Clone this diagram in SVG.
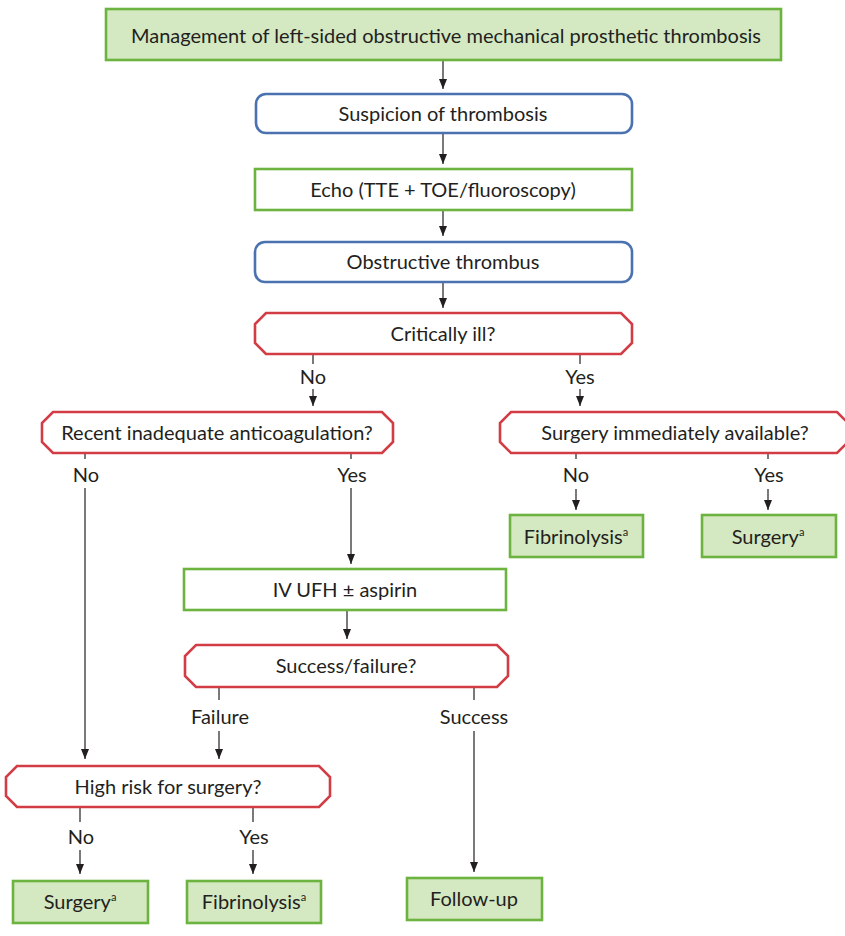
<svg xmlns="http://www.w3.org/2000/svg" width="845" height="936" viewBox="0 0 845 936">
<defs>
<marker id="ah" markerUnits="userSpaceOnUse" markerWidth="10" markerHeight="8" refX="10" refY="4" orient="auto">
<path d="M0,0 L10,4 L0,8 Z" fill="#231f20"/>
</marker>
<style>
.t{font-family:Lato,"Liberation Sans",sans-serif;font-size:20px;fill:#231f20;text-anchor:middle}
.sup{font-size:11px}
.g{fill:#d4e8c2;stroke:#6db33f;stroke-width:2.6}
.gw{fill:#ffffff;stroke:#6db33f;stroke-width:2.6}
.b{fill:#ffffff;stroke:#4a72b0;stroke-width:2.6}
.r{fill:#ffffff;stroke:#d23c44;stroke-width:2.6}
.c line{stroke:#231f20;stroke-width:1.2}
.c line.a{marker-end:url(#ah)}
</style>
</defs>
<rect width="845" height="936" fill="#ffffff"/>
<g id="connectors" class="c">
<line class="a" x1="443" y1="61" x2="443" y2="89"/>
<line class="a" x1="443" y1="134" x2="443" y2="164"/>
<line class="a" x1="443" y1="211" x2="443" y2="236"/>
<line class="a" x1="443" y1="283" x2="443" y2="308"/>
<line x1="313" y1="354" x2="313" y2="364"/>
<line class="a" x1="313" y1="389" x2="313" y2="406"/>
<line x1="580" y1="354" x2="580" y2="364"/>
<line class="a" x1="580" y1="389" x2="580" y2="406"/>
<line x1="85" y1="453" x2="85" y2="459"/>
<line class="a" x1="85" y1="488" x2="85" y2="759"/>
<line x1="351" y1="453" x2="351" y2="459"/>
<line class="a" x1="351" y1="488" x2="351" y2="564"/>
<line x1="576" y1="453" x2="576" y2="459"/>
<line class="a" x1="576" y1="489" x2="576" y2="510"/>
<line x1="768" y1="453" x2="768" y2="459"/>
<line class="a" x1="768" y1="489" x2="768" y2="510"/>
<line class="a" x1="347" y1="610" x2="347" y2="639"/>
<line x1="219" y1="687" x2="219" y2="700"/>
<line class="a" x1="219" y1="731" x2="219" y2="759"/>
<line x1="474" y1="687" x2="474" y2="700"/>
<line class="a" x1="474" y1="731" x2="474" y2="872"/>
<line x1="80" y1="807" x2="80" y2="822"/>
<line class="a" x1="80" y1="850" x2="80" y2="874"/>
<line x1="253" y1="807" x2="253" y2="822"/>
<line class="a" x1="253" y1="850" x2="253" y2="874"/>
<text class="t" x="313" y="384">No</text>
<text class="t" x="580" y="384">Yes</text>
<text class="t" x="86" y="482">No</text>
<text class="t" x="352" y="482">Yes</text>
<text class="t" x="576" y="482">No</text>
<text class="t" x="769" y="482">Yes</text>
<text class="t" x="220" y="724">Failure</text>
<text class="t" x="474" y="724">Success</text>
<text class="t" x="81" y="844">No</text>
<text class="t" x="254" y="844">Yes</text>
</g>
<g id="n-title">
<rect class="g" x="106" y="9" width="675" height="51"/>
<text class="t" x="446" y="43">Management of left-sided obstructive mechanical prosthetic thrombosis</text>
</g>
<g id="n-suspicion">
<rect class="b" x="256" y="94" width="376" height="39" rx="10"/>
<text class="t" x="443" y="121">Suspicion of thrombosis</text>
</g>
<g id="n-echo">
<rect class="gw" x="255" y="169" width="377" height="41"/>
<text class="t" x="443" y="197">Echo (TTE + TOE/fluoroscopy)</text>
</g>
<g id="n-obstructive">
<rect class="b" x="255" y="242" width="377" height="40" rx="10"/>
<text class="t" x="443" y="269">Obstructive thrombus</text>
</g>
<g id="n-critically">
<path class="r" d="M266,313 H621 L632,324 V343 L621,354 H266 L255,343 V324 Z"/>
<text class="t" x="443" y="341">Critically ill?</text>
</g>
<g id="n-recent">
<path class="r" d="M53,412 H382 L393,423 V442 L382,453 H53 L42,442 V423 Z"/>
<text class="t" x="217" y="440">Recent inadequate anticoagulation?</text>
</g>
<g id="n-surgery-avail">
<path class="r" d="M511,412 H837 L848,423 V442 L837,453 H511 L500,442 V423 Z"/>
<text class="t" x="675" y="440">Surgery immediately available?</text>
</g>
<g id="n-fibrinolysis-1">
<rect class="g" x="510" y="515" width="133" height="42"/>
<text class="t" x="576" y="544">Fibrinolysis<tspan class="sup" dy="-8">a</tspan></text>
</g>
<g id="n-surgery-1">
<rect class="g" x="702" y="515" width="134" height="42"/>
<text class="t" x="768" y="544">Surgery<tspan class="sup" dy="-8">a</tspan></text>
</g>
<g id="n-ivufh">
<rect class="gw" x="184" y="569" width="322" height="41"/>
<text class="t" x="345" y="597">IV UFH ± aspirin</text>
</g>
<g id="n-success-failure">
<path class="r" d="M196,645 H497 L508,656 V676 L497,687 H196 L185,676 V656 Z"/>
<text class="t" x="346" y="673">Success/failure?</text>
</g>
<g id="n-highrisk">
<path class="r" d="M17,766 H319 L330,777 V796 L319,807 H17 L6,796 V777 Z"/>
<text class="t" x="168" y="794">High risk for surgery?</text>
</g>
<g id="n-surgery-2">
<rect class="g" x="13" y="881" width="135" height="42"/>
<text class="t" x="80" y="909">Surgery<tspan class="sup" dy="-8">a</tspan></text>
</g>
<g id="n-fibrinolysis-2">
<rect class="g" x="187" y="881" width="134" height="42"/>
<text class="t" x="254" y="909">Fibrinolysis<tspan class="sup" dy="-8">a</tspan></text>
</g>
<g id="n-followup">
<rect class="g" x="407" y="878" width="135" height="42"/>
<text class="t" x="474" y="906">Follow-up</text>
</g>
</svg>
